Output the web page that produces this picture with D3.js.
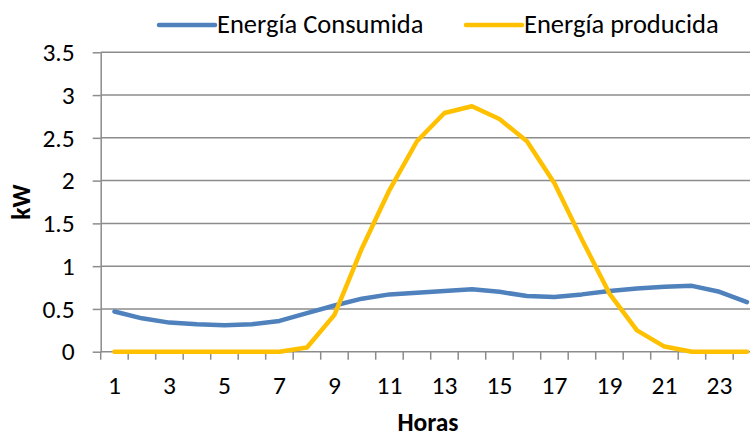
<!DOCTYPE html>
<html>
<head>
<meta charset="utf-8">
<script src="https://cdn.jsdelivr.net/npm/d3@7"></script>
<style>
  html, body { margin: 0; padding: 0; background: #fff; }
  svg { display: block; font-family: Carlito, Calibri, Lato, "Open Sans", sans-serif; }
</style>
</head>
<body>
<svg id="chart" width="750" height="437"></svg>
<script>
// Hourly energy profile (kW)
const hours = d3.range(1, 25);
const consumida = [0.47, 0.39, 0.34, 0.32, 0.31, 0.32, 0.36, 0.45, 0.54, 0.62, 0.67, 0.69,
                   0.71, 0.73, 0.70, 0.65, 0.64, 0.67, 0.71, 0.74, 0.76, 0.77, 0.70, 0.58];
const producida = [0, 0, 0, 0, 0, 0, 0, 0.05, 0.43, 1.21, 1.89, 2.46,
                   2.79, 2.87, 2.72, 2.46, 1.97, 1.31, 0.68, 0.25, 0.06, 0, 0, 0];
const yTicks = [0, 0.5, 1, 1.5, 2, 2.5, 3, 3.5];
const xTickLabels = [1, 3, 5, 7, 9, 11, 13, 15, 17, 19, 21, 23];
const seriesNames = ["Energía Consumida", "Energía producida"];
const seriesColors = ["#4F81BD", "#FFC000"];

const svg = d3.select("#chart");
const plot = { left: 100.7, right: 760.7, top: 52.3, bottom: 351.7 };
const fontSize = 25.5;
const legendFontSize = 26.5;

const x = d3.scaleBand().domain(hours).range([plot.left, plot.right]);
const y = d3.scaleLinear().domain([0, 3.5]).range([plot.bottom, plot.top]);

const gridColor = "#8c8c8c";

// horizontal gridlines
svg.append("g").selectAll("line").data(yTicks).join("line")
  .attr("x1", plot.left).attr("x2", plot.right)
  .attr("y1", d => y(d)).attr("y2", d => y(d))
  .attr("stroke", gridColor).attr("stroke-width", 1.5);

// y axis
const yAxis = svg.append("g").attr("transform", `translate(${plot.left},0)`)
  .call(d3.axisLeft(y).tickValues(yTicks).tickSize(8).tickSizeOuter(0).tickPadding(18)
    .tickFormat(d3.format("")));
yAxis.select(".domain").attr("stroke", gridColor).attr("stroke-width", 1.5);
yAxis.selectAll(".tick line").attr("stroke", gridColor).attr("stroke-width", 1.5);
yAxis.selectAll(".tick text").attr("font-size", fontSize).attr("fill", "#000")
  .attr("font-family", "Carlito, Calibri, Lato, sans-serif");

// x axis: tick marks on category boundaries, labels on odd hours
const boundaries = d3.range(0, 25).map(i => plot.left + i * x.step());
svg.append("g").selectAll("line").data(boundaries).join("line")
  .attr("x1", d => d).attr("x2", d => d)
  .attr("y1", plot.bottom).attr("y2", plot.bottom + 8)
  .attr("stroke", gridColor).attr("stroke-width", 1.5);
svg.append("g").selectAll("text").data(xTickLabels).join("text")
  .attr("x", d => x(d) + x.bandwidth() / 2)
  .attr("y", 394)
  .attr("text-anchor", "middle")
  .attr("font-size", fontSize)
  .text(d => d);

// axis titles
svg.append("text").attr("x", 428).attr("y", 431)
  .attr("text-anchor", "middle").attr("font-size", fontSize).attr("font-weight", "bold")
  .text("Horas");
svg.append("text")
  .attr("transform", "translate(30,202) rotate(-90)")
  .attr("text-anchor", "middle").attr("font-size", fontSize).attr("font-weight", "bold")
  .text("kW");

// series lines
const line = d3.line()
  .x((d, i) => x(hours[i]) + x.bandwidth() / 2)
  .y(d => y(d));
[consumida, producida].forEach((vals, k) => {
  svg.append("path").datum(vals)
    .attr("fill", "none")
    .attr("stroke", seriesColors[k])
    .attr("stroke-width", 4.5)
    .attr("stroke-linejoin", "round")
    .attr("stroke-linecap", "round")
    .attr("d", line);
});

// legend
const legendX = [159, 466];
const legend = svg.append("g").selectAll("g").data(seriesNames).join("g")
  .attr("transform", (d, i) => `translate(${legendX[i]},25)`);
legend.append("line")
  .attr("x1", 0).attr("x2", 56).attr("y1", 0).attr("y2", 0)
  .attr("stroke", (d, i) => seriesColors[i]).attr("stroke-width", 4.5)
  .attr("stroke-linecap", "round");
legend.append("text")
  .attr("x", 58).attr("y", 8)
  .attr("font-size", legendFontSize)
  .text(d => d);
</script>
</body>
</html>
